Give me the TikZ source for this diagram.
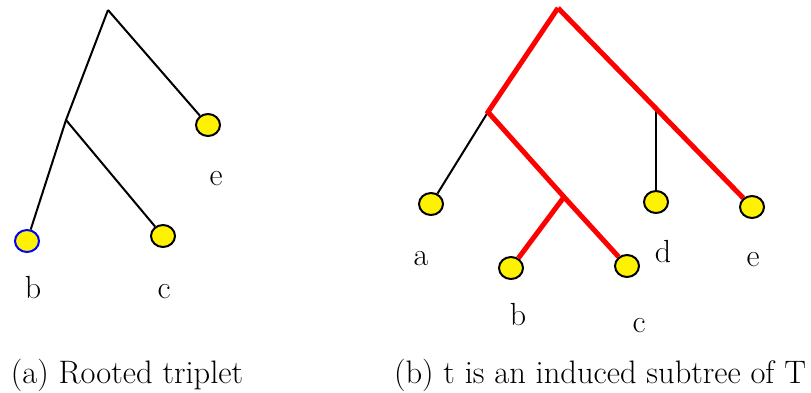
\documentclass[tikz,border=0pt]{standalone}
\usetikzlibrary{shapes.geometric}

\begin{document}
\begin{tikzpicture}[x=1pt,y=-1pt,
  leaf/.style={ellipse,draw=black,fill=yellow,line width=2pt,
    minimum width=24pt,minimum height=22pt,inner sep=0pt},
  plain/.style={black,line width=2pt},
  induced/.style={red,line width=5pt},
  lbl/.style={anchor=base,inner sep=0pt,font=\fontsize{32}{38}\selectfont},
  caption/.style={anchor=base,inner sep=0pt,font=\fontsize{32.5}{39}\selectfont}]
\useasboundingbox (0,0) rectangle (811,392);
% (a) rooted triplet
\coordinate (aroot) at (108,10);
\coordinate (aint) at (66,120);
\node[leaf,draw=blue] (ab) at (27,241) {};
\node[leaf] (ac) at (163,236) {};
\node[leaf] (ae) at (208,125) {};
\draw[plain] (aroot) -- (aint) -- (ab);
\draw[plain] (aint) -- (ac);
\draw[plain] (aroot) -- (ae);
\node[lbl] at (33,298) {b};
\node[lbl] at (164,298) {c};
\node[lbl] at (216,185) {e};
% (b) induced subtree
\coordinate (broot) at (558,8);
\coordinate (bleft) at (488,112);
\coordinate (blow) at (564,197);
\coordinate (bdj) at (656,108);
\node[leaf] (ba) at (431,204) {};
\node[leaf] (bb) at (511,268) {};
\node[leaf] (bc) at (627,266) {};
\node[leaf] (bd) at (656,202) {};
\node[leaf] (be) at (752,207) {};
\draw[plain] (bleft) -- (ba);
\draw[plain] (bdj) -- (bd);
\draw[induced] (broot) -- (bleft) -- (blow) -- (bc);
\draw[induced] (blow) -- (bb);
\draw[induced] (broot) -- (be);
\node[lbl] at (421,265) {a};
\node[lbl] at (518,325) {b};
\node[lbl] at (639,332) {c};
\node[lbl] at (663,262) {d};
\node[lbl] at (753,266) {e};
% captions
\node[caption] (capa) at (127,383) {(a) Rooted triplet};
\node[caption] (capb) at (600,383) {(b) t is an induced subtree of T};
\end{tikzpicture}
\end{document}
